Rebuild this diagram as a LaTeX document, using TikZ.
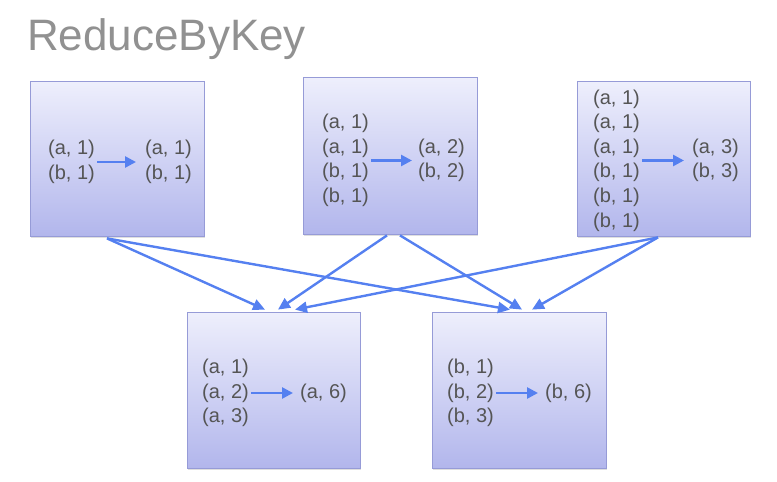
\documentclass[tikz,border=0pt]{standalone}
\usepackage{fontspec}
\setmainfont{Liberation Sans}
\usetikzlibrary{arrows.meta,shadows}
\definecolor{txtgray}{RGB}{85,85,85}
\definecolor{titlegray}{RGB}{145,145,145}
\definecolor{boxtop}{RGB}{238,239,252}
\definecolor{boxbot}{RGB}{178,182,236}
\definecolor{boxline}{RGB}{150,155,215}
\definecolor{arrblue}{RGB}{85,128,240}
\tikzset{
  box/.style={draw=boxline, line width=0.8pt, top color=boxtop, bottom color=boxbot,
    minimum width=174pt, minimum height=155pt, inner sep=0pt,
    drop shadow={shadow xshift=1pt, shadow yshift=-1.5pt, opacity=0.25}},
  kv/.style={font=\fontsize{20}{24.6}\selectfont, text=txtgray, align=left, inner sep=0pt, anchor=west},
  inarrow/.style={draw=arrblue, line width=2.6pt, -{Triangle[length=11pt,width=11pt]}, shorten <=2pt, shorten >=7pt},
  flow/.style={draw=arrblue, line width=2.4pt, -{Triangle[length=12pt,width=11pt]}},
}
\begin{document}
\begin{tikzpicture}[x=1pt,y=-1pt]
\useasboundingbox (0,0) rectangle (777,482);
\node[font=\fontsize{44}{44}\selectfont, text=titlegray, anchor=base west, inner sep=0pt] (title) at (27,50) {ReduceByKey};

\node[box] (b1) at (117,158.5) {};
\node[box, minimum height=157pt] (b2) at (390,155.5) {};
\node[box, minimum width=173pt] (b3) at (663.5,158.5) {};
\node[box, minimum width=173pt, minimum height=156pt] (b4) at (273.5,390) {};
\node[box, minimum height=156pt] (b5) at (519,390) {};

% box 1
\node[kv] (l1) at (48,162) {(a, 1)\\(b, 1)};
\node[kv] (r1) at (145,162) {(a, 1)\\(b, 1)};
\draw[inarrow, shorten >=9pt] (l1.east) -- (r1.west);
% box 2
\node[kv] (l2) at (322,160.5) {(a, 1)\\(a, 1)\\(b, 1)\\(b, 1)};
\node[kv] (r2) at (418,160.5) {(a, 2)\\(b, 2)};
\draw[inarrow, shorten >=6pt] (l2.east) -- (r2.west);
% box 3
\node[kv] (l3) at (593,160.5) {(a, 1)\\(a, 1)\\(a, 1)\\(b, 1)\\(b, 1)\\(b, 1)};
\node[kv] (r3) at (692,160.5) {(a, 3)\\(b, 3)};
\draw[inarrow, shorten >=8pt] (l3.east) -- (r3.west);
% box 4
\node[kv] (l4) at (202,393) {(a, 1)\\(a, 2)\\(a, 3)};
\node[kv] (r4) at (300,393) {(a, 6)};
\draw[inarrow] (l4.east) -- (r4.west);
% box 5
\node[kv] (l5) at (447,393) {(b, 1)\\(b, 2)\\(b, 3)};
\node[kv] (r5) at (545,393) {(b, 6)};
\draw[inarrow] (l5.east) -- (r5.west);

% shuffle connectors
\draw[flow] ([xshift=-10pt,yshift=-2pt]b1.south) -- ([xshift=-8.5pt,yshift=2pt]b4.north);
\draw[flow] ([xshift=-10pt,yshift=-2pt]b1.south) -- ([xshift=-9pt,yshift=2pt]b5.north);
\draw[flow] ([xshift=-3pt,yshift=-1pt]b2.south) -- ([xshift=4.5pt,yshift=2pt]b4.north);
\draw[flow] ([xshift=10pt,yshift=-1pt]b2.south) -- ([xshift=3pt,yshift=2pt]b5.north);
\draw[flow] ([xshift=-5.5pt,yshift=-1pt]b3.south) -- ([xshift=21.5pt,yshift=2pt]b4.north);
\draw[flow] ([xshift=-5.5pt,yshift=-1pt]b3.south) -- ([xshift=13pt,yshift=2pt]b5.north);
\end{tikzpicture}
\end{document}
